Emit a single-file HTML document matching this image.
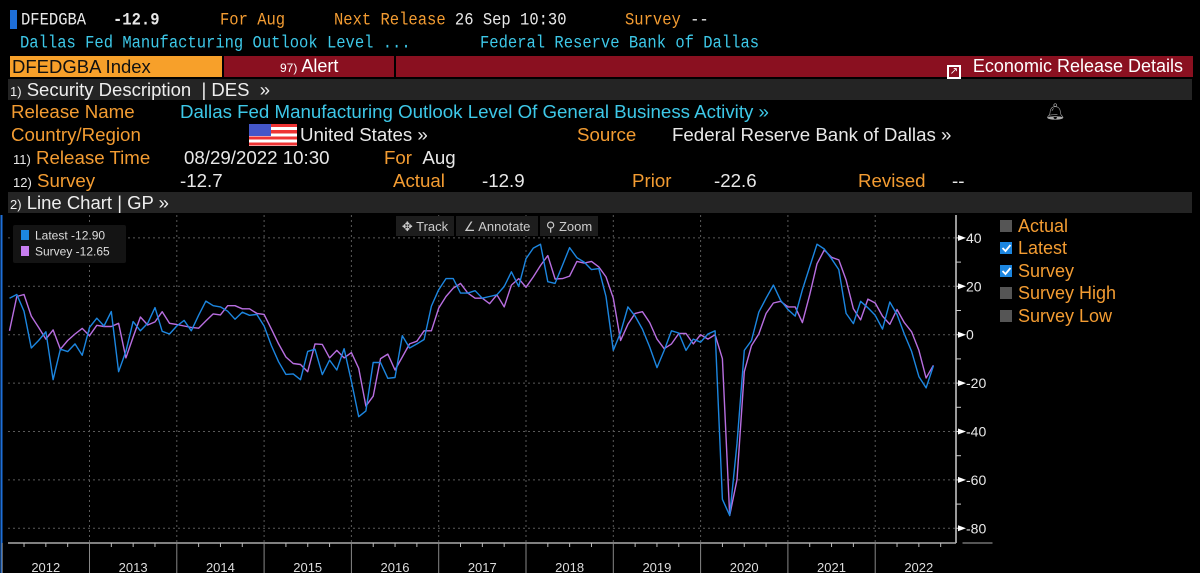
<!DOCTYPE html>
<html><head><meta charset="utf-8">
<style>
*{margin:0;padding:0;box-sizing:border-box}
body{width:1200px;height:573px;background:#000;overflow:hidden;position:relative;font-family:"Liberation Sans",sans-serif}
.a{position:absolute;white-space:nowrap}
.mono{font-family:"Liberation Mono",monospace;font-size:15.5px;transform:scaleY(1.12);transform-origin:0 0}
.s{font-size:18.7px;line-height:20px}
.or{color:#f39c32}.cy{color:#3dc8e8}.wh{color:#e8e8e8}
.bar{position:absolute;left:8px;right:8px;background:#242424}
</style></head><body>
<div class="a" style="left:10px;top:10px;width:7px;height:19px;background:#1e6fd9"></div>
<div class="a mono wh" style="left:21px;top:10px">DFEDGBA</div>
<div class="a mono wh" style="left:113px;top:10px;font-weight:bold">-12.9</div>
<div class="a mono or" style="left:220px;top:10px">For Aug</div>
<div class="a mono or" style="left:334px;top:10px">Next Release <span class="wh">26 Sep 10:30</span></div>
<div class="a mono or" style="left:625px;top:10px">Survey <span class="wh">--</span></div>
<div class="a mono cy" style="left:20px;top:33px">Dallas Fed Manufacturing Outlook Level ...</div>
<div class="a mono cy" style="left:480px;top:33px">Federal Reserve Bank of Dallas</div>

<div class="a" style="left:10px;top:56px;width:212px;height:21px;background:#f7a02a;color:#111;font-size:18.5px;padding-left:2px;line-height:21px">DFEDGBA Index</div>
<div class="a" style="left:224px;top:56px;width:170px;height:21px;background:#8a1020;color:#fff;font-size:18px;line-height:21px;padding-left:56px"><span style="font-size:12px">97)</span> Alert</div>
<div class="a" style="left:396px;top:56px;width:797px;height:21px;background:#8a1020;color:#fff;font-size:18px;line-height:21px;text-align:right;padding-right:10px"><span style="display:inline-block;width:14px;height:14px;border:2px solid #fff;vertical-align:-2px;margin-right:12px;font-size:10px;line-height:9px;text-align:center">↗</span>Economic Release Details</div>

<div class="bar" style="top:79px;height:21px;color:#eee;font-size:18.5px;line-height:21px;padding-left:2px"><span style="font-size:13px">1)</span> Security Description &nbsp;| DES &nbsp;»</div>

<div class="a s or" style="left:11px;top:102px">Release Name</div>
<div class="a s cy" style="left:180px;top:102px">Dallas Fed Manufacturing Outlook Level Of General Business Activity »</div>
<div class="a" style="left:1045px;top:102px;color:#aaa;font-size:16px">🔔︎</div>
<div class="a s or" style="left:11px;top:125px">Country/Region</div>
<div class="a" style="left:249px;top:124px;width:48px;height:22px;background:repeating-linear-gradient(#e33 0 3.1px,#fff 3.1px 6.2px)"><div style="width:22px;height:12px;background:#4456c8"></div></div>
<div class="a s wh" style="left:300px;top:125px">United States »</div>
<div class="a s or" style="left:577px;top:125px">Source</div>
<div class="a s wh" style="left:672px;top:125px">Federal Reserve Bank of Dallas »</div>
<div class="a s or" style="left:13px;top:148px"><span class="wh" style="font-size:13px">11)</span> Release Time</div>
<div class="a s wh" style="left:184px;top:148px">08/29/2022 10:30</div>
<div class="a s or" style="left:384px;top:148px">For <span class="wh">&nbsp;Aug</span></div>
<div class="a s or" style="left:13px;top:171px"><span class="wh" style="font-size:13px">12)</span> Survey</div>
<div class="a s wh" style="left:180px;top:171px">-12.7</div>
<div class="a s or" style="left:393px;top:171px">Actual</div>
<div class="a s wh" style="left:482px;top:171px">-12.9</div>
<div class="a s or" style="left:632px;top:171px">Prior</div>
<div class="a s wh" style="left:714px;top:171px">-22.6</div>
<div class="a s or" style="left:858px;top:171px">Revised</div>
<div class="a s wh" style="left:952px;top:171px">--</div>

<div class="bar" style="top:192px;height:21px;color:#eee;font-size:18.5px;line-height:21px;padding-left:2px"><span style="font-size:13px">2)</span> Line Chart | GP »</div>

<svg class="a" id="chart" style="left:0;top:0" width="1200" height="573" viewBox="0 0 1200 573" font-family="Liberation Sans, sans-serif"></svg>

<script>
const latestValues=[15.1,16.6,9.7,-5.5,-2.4,1.2,-18.6,-6,-7,-3.8,-8.5,3,6.8,3.6,9.6,-15.3,-6.9,5.4,1.6,4.7,11.2,1.4,0.3,3.6,5.9,1.6,8,13.9,12,11.5,9.7,6.4,
9.3,8,8.4,3.6,-4.5,-11.2,-16.4,-16.2,-18.6,-6.9,-6,-16.5,-10.5,-14.6,-5.8,-19.3,-33.9,-31.5,-11.5,-11.5,-18,-17.7,-0.4,-5.5,-3.8,-2,11.8,18.6,23.2,23.2,17.2,17.2,18.2,
15.1,15.8,16.5,19.9,26,19.9,31.4,35.8,37.4,21.9,21.2,28.6,36,31.8,30,26.9,27.3,15.8,-6.5,0.9,11.5,7.7,2.3,-5.1,-13.6,-6.5,1.6,0.7,-6.5,-1.8,-3.1,0.3,1.6,
-68,-74.7,-45,
-6.5,-2.4,9.3,15.1,20.5,14.2,10.4,7.7,18.6,28,37.4,35.4,31.4,26.9,8.8,4.6,13.8,11.1,8,2.3,13.5,8.4,0.3,-6.9,-17.3,-22,-12.9];
const surveyValues=[1.6,15.8,16.6,7.7,3,-1.8,2,-6,-2.4,0.3,2.6,-0.4,3.9,3.4,3.4,4.7,-9.6,-1,7.3,4,5.3,9.5,4.7,4.2,3.6,3,2.7,5.7,8.6,8.2,12,12,
10.7,10.7,8.8,8.4,2.3,-3.8,-9.2,-11.9,-12.3,-15.3,-3.8,-4,-9.6,-6.5,-9.6,-7.4,-13.9,-29.5,-25.4,-9.9,-8,-14.6,-9.2,-3.8,-2.7,1.6,1.6,11,15.8,19.2,21.2,17.2,15.1,
15.1,12.8,16.5,11.5,20.5,23.2,19.6,23.9,28.6,32.7,23,23.2,24.2,30.3,29.6,30.3,28,23.9,15.1,-2.4,4.3,8.8,9.5,5,-1.8,-5.8,-3.8,0.5,0.5,-3.8,0,-1.8,0,
-9.9,-74.7,-59.9,
-15.3,-4.5,0.3,8.8,13.1,13.8,11.5,11.5,5,16.5,29.3,35,32,30.9,22.6,10.7,6.1,14.7,13.1,7.7,4.3,10.4,5,1.2,-6.5,-17.9,-12.65];
const yearLabels=[2012,2013,2014,2015,2016,2017,2018,2019,2020,2021,2022];
const yTicks=[40,20,0,-20,-40,-60,-80];

const NS="http://www.w3.org/2000/svg";
const svg=document.getElementById('chart');
const X0=2.2, MW=87.3/12, AX=956, AB=543;
const xm=i=>X0+(i+1)*MW;
const xy=k=>X0+k*87.3;
const yv=v=>334.7-v*2.42;
function el(t,a,p){const e=document.createElementNS(NS,t);for(const k in a)e.setAttribute(k,a[k]);(p||svg).appendChild(e);return e;}

const lb=el('line',{x1:1.5,y1:215,x2:1.5,y2:573,stroke:'#1e6fd9','stroke-width':2});



yTicks.forEach(v=>{
  const g=el('line',{x1:8,x2:AX,y1:yv(v),y2:yv(v),stroke:'#5a5a5a','stroke-dasharray':'2,3','stroke-width':1});
  
  
});
for(let k=1;k<yearLabels.length;k++){
  const g=el('line',{x1:xy(k),x2:xy(k),y1:215,y2:AB,stroke:'#5a5a5a','stroke-dasharray':'2,3','stroke-width':1});
  
  
}
const ya=el('line',{x1:AX,x2:AX,y1:215,y2:AB,stroke:'#ccc','stroke-width':1.5});


const xa=el('line',{x1:8,x2:AX,y1:AB,y2:AB,stroke:'#aaa','stroke-width':1.5});


for(let v=-80;v<=40;v+=10){
  el('line',{x1:AX,x2:AX+5,y1:yv(v),y2:yv(v),stroke:'#ccc'});
}
yTicks.forEach(v=>{
  const t=el('polygon',{points:`${AX+2},${yv(v)-3} ${AX+10},${yv(v)} ${AX+2},${yv(v)+3}`,fill:'#fff'});
  
  
  const tx=el('text',{x:AX+10,y:yv(v)+5,fill:'#e8e8e8','font-size':14});
  tx.textContent=v;
  
  
});
for(let k=0;k<yearLabels.length;k++){
  const b=el('line',{x1:xy(k),x2:xy(k),y1:AB,y2:573,stroke:'#888'});
  
  
  for(let q=1;q<4;q++) el('line',{x1:xy(k)+q*87.3/4,x2:xy(k)+q*87.3/4,y1:AB,y2:AB+4,stroke:'#bbb'});
  const t=el('text',{x:xy(k)+43.6,y:572,fill:'#ddd','font-size':13,'text-anchor':'middle'});
  t.textContent=yearLabels[k];
  
  
}
el('line',{x1:xy(11),x2:xy(11)+30,y1:AB,y2:AB,stroke:'#aaa'});

function series(vals,color,name){
  const p=el('polyline',{points:vals.map((v,i)=>xm(i).toFixed(1)+','+yv(v).toFixed(1)).join(' '),fill:'none',stroke:color,'stroke-width':1.4,'stroke-linejoin':'round'});
  
  
}
series(surveyValues,'#b86ee0','survey-line');
series(latestValues,'#1c86e0','latest-line');

[['track-button','✥ Track',396,58],['annotate-button','∠ Annotate',456,82],['zoom-button','⚲ Zoom',540,58]].forEach(b=>{
  const r=el('rect',{x:b[2],y:216,width:b[3],height:20,fill:'#1d1d1d'});
  
  
  const t=el('text',{x:b[2]+b[3]/2,y:231,fill:'#ccc','font-size':13,'text-anchor':'middle'});
  t.textContent=b[1];
  
  
});

const lgb=el('rect',{x:13,y:225,width:113,height:38,fill:'#141414',rx:2});


[['legend-latest','#1c86e0','Latest  -12.90',230],['legend-survey','#c77ef0','Survey  -12.65',246]].forEach(l=>{
  const s=el('rect',{x:21,y:l[3],width:8,height:10,fill:l[1]});
  
  
  const t=el('text',{x:35,y:l[3]+9.5,fill:'#ddd','font-size':12,'xml:space':'preserve'});
  t.textContent=l[2];
  
  
});

[['Actual',false,226],['Latest',true,248],['Survey',true,271],['Survey High',false,293],['Survey Low',false,316]].forEach(l=>{
  const b=el('rect',{x:1000,y:l[2]-6,width:12,height:12,fill:l[1]?'#1c86e0':'#555'});
  
  
  if(l[1]) el('path',{d:`M1002.5 ${l[2]} l3 3 l5 -6`,stroke:'#fff','stroke-width':1.8,fill:'none'});
  const t=el('text',{x:1018,y:l[2]+6,fill:'#f39c32','font-size':18});
  t.textContent=l[0];
  
  
});
</script>
</body></html>
